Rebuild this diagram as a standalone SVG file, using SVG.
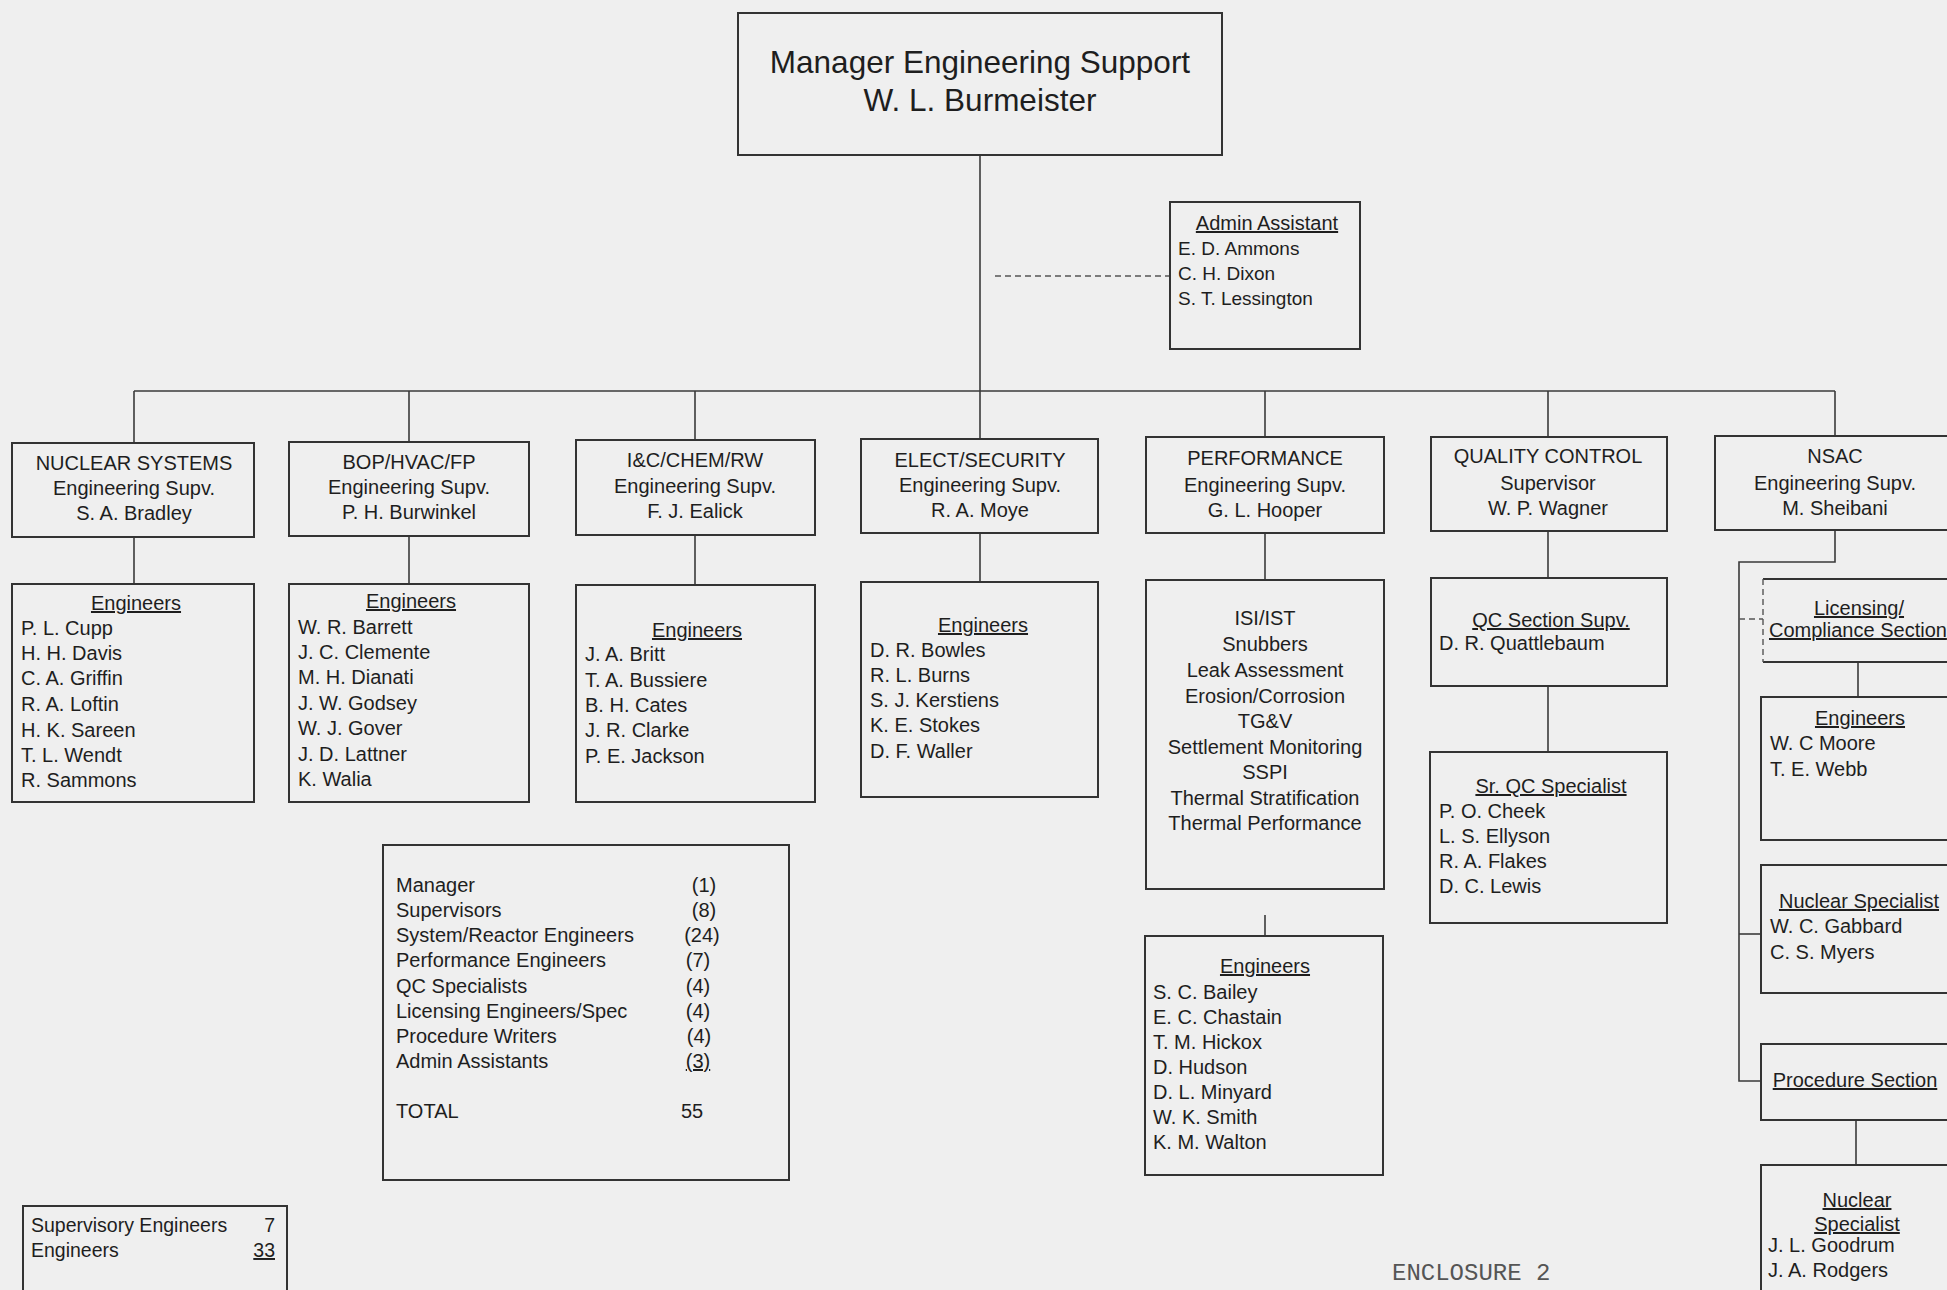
<svg xmlns="http://www.w3.org/2000/svg" width="1947" height="1290" viewBox="0 0 1947 1290">
<style>
.bx{fill:none;stroke:#333;stroke-width:2}
.ln{fill:none;stroke:#3a3a3a;stroke-width:1.6}
.dl{fill:none;stroke:#555;stroke-width:1.4;stroke-dasharray:6 4}
text{font-family:"Liberation Sans",Arial,sans-serif;font-size:20px;fill:#1e1e1e}
.c{text-anchor:middle}
.u{text-decoration:underline}
.big{font-size:31.5px}
</style>
<rect width="1947" height="1290" fill="#efefef"/>
<g id="connectors">
<line class="ln" x1="980" y1="155" x2="980" y2="391"/>
<line class="dl" x1="995" y1="276" x2="1170" y2="276"/>
<line class="ln" x1="134" y1="391" x2="1835" y2="391"/>
<line class="ln" x1="134" y1="391" x2="134" y2="443"/>
<line class="ln" x1="409" y1="391" x2="409" y2="442"/>
<line class="ln" x1="695" y1="391" x2="695" y2="440"/>
<line class="ln" x1="980" y1="391" x2="980" y2="439"/>
<line class="ln" x1="1265" y1="391" x2="1265" y2="437"/>
<line class="ln" x1="1548" y1="391" x2="1548" y2="437"/>
<line class="ln" x1="1835" y1="391" x2="1835" y2="436"/>
<line class="ln" x1="134" y1="537" x2="134" y2="584"/>
<line class="ln" x1="409" y1="537" x2="409" y2="584"/>
<line class="ln" x1="695" y1="535" x2="695" y2="585"/>
<line class="ln" x1="980" y1="533" x2="980" y2="582"/>
<line class="ln" x1="1265" y1="533" x2="1265" y2="580"/>
<line class="ln" x1="1265" y1="915" x2="1265" y2="936"/>
<line class="ln" x1="1548" y1="531" x2="1548" y2="578"/>
<line class="ln" x1="1548" y1="686" x2="1548" y2="752"/>
<polyline class="ln" points="1835,530 1835,562 1739,562 1739,1081 1761,1081"/>
<line class="dl" x1="1739" y1="619" x2="1763" y2="619"/>
<line class="ln" x1="1739" y1="934" x2="1761" y2="934"/>
<line class="ln" x1="1858" y1="662" x2="1858" y2="697"/>
<line class="ln" x1="1856" y1="1120" x2="1856" y2="1165"/>
</g>
<g id="manager">
<rect class="bx" x="738" y="13" width="484" height="142"/>
<text class="c big" x="980" y="73">Manager Engineering Support</text>
<text class="c big" x="980" y="111">W. L. Burmeister</text>
</g>
<g id="admin">
<rect class="bx" x="1170" y="202" width="190" height="147"/>
<text class="c u" x="1267" y="230" font-size="19">Admin Assistant</text>
<text x="1178" y="255" style="font-size:19px">E. D. Ammons</text>
<text x="1178" y="280" style="font-size:19px">C. H. Dixon</text>
<text x="1178" y="305" style="font-size:19px">S. T. Lessington</text>
</g>
<g id="nuclear-systems">
<rect class="bx" x="12" y="443" width="242" height="94"/>
<text class="c" x="134" y="470">NUCLEAR SYSTEMS</text>
<text class="c" x="134" y="495">Engineering Supv.</text>
<text class="c" x="134" y="520">S. A. Bradley</text>
</g>
<g id="nuclear-engineers">
<rect class="bx" x="12" y="584" width="242" height="218"/>
<text class="c u" x="136" y="610">Engineers</text>
<text x="21" y="635">P. L. Cupp</text>
<text x="21" y="660">H. H. Davis</text>
<text x="21" y="685">C. A. Griffin</text>
<text x="21" y="711">R. A. Loftin</text>
<text x="21" y="737">H. K. Sareen</text>
<text x="21" y="762">T. L. Wendt</text>
<text x="21" y="787">R. Sammons</text>
</g>
<g id="bop">
<rect class="bx" x="289" y="442" width="240" height="94"/>
<text class="c" x="409" y="469">BOP/HVAC/FP</text>
<text class="c" x="409" y="494">Engineering Supv.</text>
<text class="c" x="409" y="519">P. H. Burwinkel</text>
</g>
<g id="bop-engineers">
<rect class="bx" x="289" y="584" width="240" height="218"/>
<text class="c u" x="411" y="608">Engineers</text>
<text x="298" y="634">W. R. Barrett</text>
<text x="298" y="659">J. C. Clemente</text>
<text x="298" y="684">M. H. Dianati</text>
<text x="298" y="710">J. W. Godsey</text>
<text x="298" y="735">W. J. Gover</text>
<text x="298" y="761">J. D. Lattner</text>
<text x="298" y="786">K. Walia</text>
</g>
<g id="ic">
<rect class="bx" x="576" y="440" width="239" height="95"/>
<text class="c" x="695" y="467">I&amp;C/CHEM/RW</text>
<text class="c" x="695" y="493">Engineering Supv.</text>
<text class="c" x="695" y="518">F. J. Ealick</text>
</g>
<g id="ic-engineers">
<rect class="bx" x="576" y="585" width="239" height="217"/>
<text class="c u" x="697" y="637">Engineers</text>
<text x="585" y="661">J. A. Britt</text>
<text x="585" y="687">T. A. Bussiere</text>
<text x="585" y="712">B. H. Cates</text>
<text x="585" y="737">J. R. Clarke</text>
<text x="585" y="763">P. E. Jackson</text>
</g>
<g id="elect">
<rect class="bx" x="861" y="439" width="237" height="94"/>
<text class="c" x="980" y="467">ELECT/SECURITY</text>
<text class="c" x="980" y="492">Engineering Supv.</text>
<text class="c" x="980" y="517">R. A. Moye</text>
</g>
<g id="elect-engineers">
<rect class="bx" x="861" y="582" width="237" height="215"/>
<text class="c u" x="983" y="632">Engineers</text>
<text x="870" y="657">D. R. Bowles</text>
<text x="870" y="682">R. L. Burns</text>
<text x="870" y="707">S. J. Kerstiens</text>
<text x="870" y="732">K. E. Stokes</text>
<text x="870" y="758">D. F. Waller</text>
</g>
<g id="performance">
<rect class="bx" x="1146" y="437" width="238" height="96"/>
<text class="c" x="1265" y="465">PERFORMANCE</text>
<text class="c" x="1265" y="492">Engineering Supv.</text>
<text class="c" x="1265" y="517">G. L. Hooper</text>
</g>
<g id="performance-areas">
<rect class="bx" x="1146" y="580" width="238" height="309"/>
<text class="c" x="1265" y="625">ISI/IST</text>
<text class="c" x="1265" y="651">Snubbers</text>
<text class="c" x="1265" y="677">Leak Assessment</text>
<text class="c" x="1265" y="703">Erosion/Corrosion</text>
<text class="c" x="1265" y="728">TG&amp;V</text>
<text class="c" x="1265" y="754">Settlement Monitoring</text>
<text class="c" x="1265" y="779">SSPI</text>
<text class="c" x="1265" y="805">Thermal Stratification</text>
<text class="c" x="1265" y="830">Thermal Performance</text>
</g>
<g id="performance-engineers">
<rect class="bx" x="1145" y="936" width="238" height="239"/>
<text class="c u" x="1265" y="973">Engineers</text>
<text x="1153" y="999">S. C. Bailey</text>
<text x="1153" y="1024">E. C. Chastain</text>
<text x="1153" y="1049">T. M. Hickox</text>
<text x="1153" y="1074">D. Hudson</text>
<text x="1153" y="1099">D. L. Minyard</text>
<text x="1153" y="1124">W. K. Smith</text>
<text x="1153" y="1149">K. M. Walton</text>
</g>
<g id="quality-control">
<rect class="bx" x="1431" y="437" width="236" height="94"/>
<text class="c" x="1548" y="463">QUALITY CONTROL</text>
<text class="c" x="1548" y="490">Supervisor</text>
<text class="c" x="1548" y="515">W. P. Wagner</text>
</g>
<g id="qc-section">
<rect class="bx" x="1431" y="578" width="236" height="108"/>
<text class="c u" x="1551" y="627">QC Section Supv.</text>
<text x="1439" y="650">D. R. Quattlebaum</text>
</g>
<g id="sr-qc">
<rect class="bx" x="1430" y="752" width="237" height="171"/>
<text class="c u" x="1551" y="793">Sr. QC Specialist</text>
<text x="1439" y="818">P. O. Cheek</text>
<text x="1439" y="843">L. S. Ellyson</text>
<text x="1439" y="868">R. A. Flakes</text>
<text x="1439" y="893">D. C. Lewis</text>
</g>
<g id="nsac">
<rect class="bx" x="1715" y="436" width="260" height="94"/>
<text class="c" x="1835" y="463">NSAC</text>
<text class="c" x="1835" y="490">Engineering Supv.</text>
<text class="c" x="1835" y="515">M. Sheibani</text>
</g>
<g id="licensing">
<path class="bx" d="M1975,579 H1763 M1763,662 H1975"/>
<line class="dl" x1="1763" y1="579" x2="1763" y2="662"/>
<text class="c u" x="1859" y="615">Licensing/</text>
<text class="u" x="1769" y="637">Compliance Section</text>
</g>
<g id="nsac-engineers">
<rect class="bx" x="1761" y="697" width="214" height="143"/>
<text class="c u" x="1860" y="725">Engineers</text>
<text x="1770" y="750">W. C Moore</text>
<text x="1770" y="776">T. E. Webb</text>
</g>
<g id="nuclear-specialist">
<rect class="bx" x="1761" y="865" width="214" height="128"/>
<text class="c u" x="1859" y="908">Nuclear Specialist</text>
<text x="1770" y="933">W. C. Gabbard</text>
<text x="1770" y="959">C. S. Myers</text>
</g>
<g id="procedure-section">
<rect class="bx" x="1761" y="1044" width="214" height="76"/>
<text class="c u" x="1855" y="1087">Procedure Section</text>
</g>
<g id="procedure-specialists">
<rect class="bx" x="1761" y="1165" width="214" height="160"/>
<text class="c u" x="1857" y="1207">Nuclear</text>
<text class="c u" x="1857" y="1231">Specialist</text>
<text x="1768" y="1252">J. L. Goodrum</text>
<text x="1768" y="1277">J. A. Rodgers</text>
</g>
<g id="totals">
<rect class="bx" x="383" y="845" width="406" height="335"/>
<text x="396" y="892">Manager</text><text class="c" x="704" y="892">(1)</text>
<text x="396" y="917">Supervisors</text><text class="c" x="704" y="917">(8)</text>
<text x="396" y="942">System/Reactor Engineers</text><text class="c" x="702" y="942">(24)</text>
<text x="396" y="967">Performance Engineers</text><text class="c" x="698" y="967">(7)</text>
<text x="396" y="993">QC Specialists</text><text class="c" x="698" y="993">(4)</text>
<text x="396" y="1018">Licensing Engineers/Spec</text><text class="c" x="698" y="1018">(4)</text>
<text x="396" y="1043">Procedure Writers</text><text class="c" x="699" y="1043">(4)</text>
<text x="396" y="1068">Admin  Assistants</text><text class="c u" x="698" y="1068">(3)</text>
<text x="396" y="1118">TOTAL</text><text class="c" x="692" y="1118">55</text>
</g>
<g id="engineer-count">
<rect class="bx" x="23" y="1206" width="264" height="100"/>
<text x="31" y="1232" style="font-size:19.5px">Supervisory Engineers</text>
<text x="275" y="1232" text-anchor="end" style="font-size:19.5px">7</text>
<text x="31" y="1257" style="font-size:19.5px">Engineers</text>
<text class="u" x="275" y="1257" text-anchor="end" style="font-size:19.5px">33</text>
</g>
<text x="1392" y="1280" style="font-family:'Liberation Mono','DejaVu Sans Mono',monospace;font-size:24px;fill:#555">ENCLOSURE 2</text>
</svg>
